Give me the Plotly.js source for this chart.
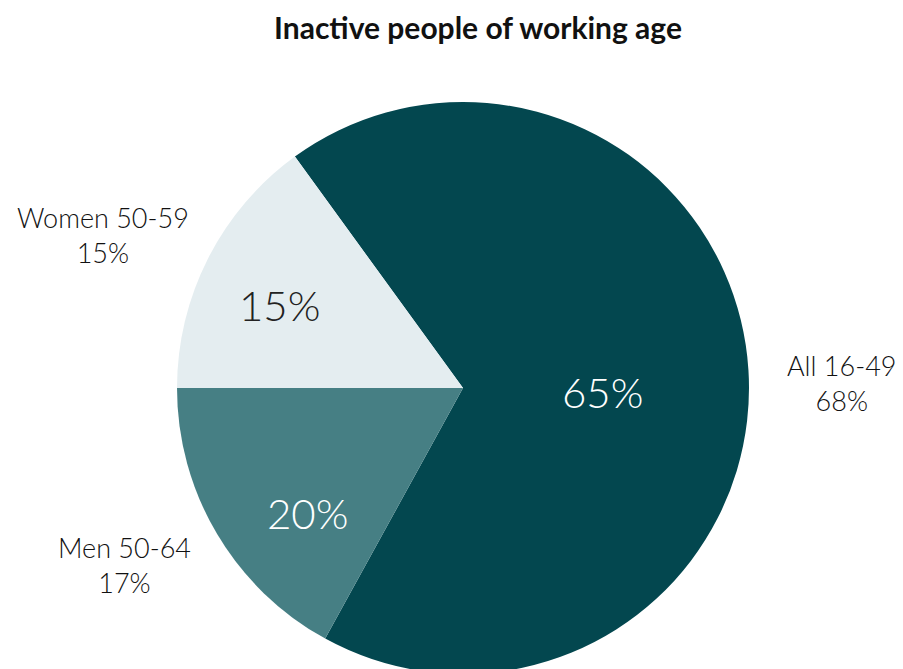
<!DOCTYPE html>
<html>
<head>
<meta charset="utf-8">
<script src="https://cdn.plot.ly/plotly-3.0.1.min.js"></script>
<style>
html, body { margin: 0; padding: 0; overflow: hidden; background: #fff; }
#chart { width: 903px; height: 690px; }
</style>
</head>
<body>
<div id="chart"></div>
<script>
const categories = ['All 16-49', 'Men 50-64', 'Women 50-59'];
const sliceValues = [68, 17, 15];
const insideLabels = ['65%', '20%', '15%'];
const outerLabels = ['68%', '17%', '15%'];
const sliceColors = ['#03474f', '#467f84', '#e4edf0'];
const insideTextColors = ['#ffffff', '#ffffff', '#222222'];

const W = 903, H = 690;
const cx = 463, cy = 388, R = 286;
const mTop = cy - R, mBottom = H - (cy + R);
const plotH = H - mTop - mBottom;
const px = (x) => x / W;
const py = (y) => 1 - (y - mTop) / plotH;

const trace = {
  type: 'pie',
  labels: categories,
  values: sliceValues,
  textinfo: 'none',
  marker: { colors: sliceColors, line: { width: 0 } },
  sort: false,
  direction: 'clockwise',
  rotation: -36,
  hoverinfo: 'none',
  showlegend: false,
  domain: { x: [(cx - R) / W, (cx + R) / W], y: [0, 1] }
};

const innerPos = [[602, 392], [307, 513], [279, 305]];
const outerPos = [[842, 383], [124, 565], [103, 235]];

const annotations = [];
categories.forEach((c, i) => {
  annotations.push({
    text: insideLabels[i],
    x: px(innerPos[i][0]), y: py(innerPos[i][1]), xref: 'paper', yref: 'paper',
    xanchor: 'center', yanchor: 'middle', showarrow: false,
    font: { family: 'Lato, sans-serif', size: 42, weight: 300, color: insideTextColors[i] }
  });
  annotations.push({
    text: c + '<br>' + outerLabels[i],
    x: px(outerPos[i][0]), y: py(outerPos[i][1]), xref: 'paper', yref: 'paper',
    xanchor: 'center', yanchor: 'middle', showarrow: false,
    font: { family: 'Lato, sans-serif', size: 27, weight: 300, color: '#111111' }
  });
});

const layout = {
  width: W, height: H,
  margin: { l: 0, r: 0, t: mTop, b: mBottom },
  paper_bgcolor: '#ffffff',
  title: {
    text: '<b>Inactive people of working age</b>',
    x: 478 / W, xanchor: 'center', xref: 'paper',
    y: 1 - 28 / H, yref: 'container', yanchor: 'middle',
    font: { family: 'Lato, sans-serif', size: 30, color: '#111111' }
  },
  annotations: annotations
};

Plotly.newPlot('chart', [trace], layout, { displayModeBar: false, staticPlot: true });
</script>
</body>
</html>
